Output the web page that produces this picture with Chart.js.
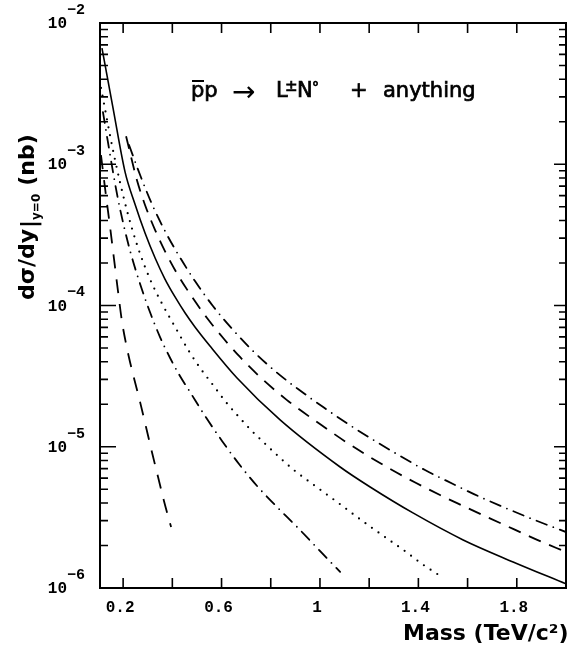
<!DOCTYPE html>
<html>
<head>
<meta charset="utf-8">
<script src="https://cdn.jsdelivr.net/npm/chart.js@4.4.0/dist/chart.umd.min.js"></script>
<style>
  html, body { margin: 0; padding: 0; background: #fff; }
  canvas { display: block; }
</style>
</head>
<body>
<canvas id="xsecChart" width="577" height="647"></canvas>
<script>
// mass in TeV/c^2, d(sigma)/dy at y=0 in nb
var massSolid  = [0.114, 0.159, 0.208, 0.248, 0.289, 0.330, 0.370, 0.411, 0.452, 0.492, 0.553, 0.663, 0.838, 1.082, 1.204, 1.378, 1.582, 1.785, 2.0];
var sigmaSolid = [6.65e-3, 2.5e-3, 8.8e-4, 5.23e-4, 3.26e-4, 2.17e-4, 1.54e-4, 1.15e-4, 8.85e-5, 7.05e-5, 5.17e-5, 3.07e-5, 1.55e-5, 7.19e-6, 5.19e-6, 3.4e-6, 2.19e-6, 1.53e-6, 1.07e-6];

var massDashed  = [0.212, 0.256, 0.289, 0.330, 0.374, 0.423, 0.480, 0.541, 0.610, 0.675, 0.765, 0.866, 0.931, 1.017, 1.106, 1.196, 1.293, 1.391, 1.488, 1.582, 1.679, 1.785, 1.883, 2.0];
var sigmaDashed = [1.58e-3, 7.74e-4, 5.15e-4, 3.42e-4, 2.35e-4, 1.64e-4, 1.15e-4, 8.15e-5, 5.79e-5, 4.32e-5, 3.02e-5, 2.14e-5, 1.76e-5, 1.38e-5, 1.08e-5, 8.6e-6, 6.84e-6, 5.54e-6, 4.55e-6, 3.81e-6, 3.18e-6, 2.62e-6, 2.19e-6, 1.8e-6];

var massDashDot  = [0.224, 0.269, 0.317, 0.370, 0.423, 0.492, 0.565, 0.647, 0.728, 0.822, 0.911, 1.013, 1.114, 1.216, 1.326, 1.427, 1.541, 1.651, 1.765, 1.883, 2.0];
var sigmaDashDot = [1.37e-3, 8.39e-4, 5.23e-4, 3.37e-4, 2.31e-4, 1.49e-4, 9.92e-5, 6.71e-5, 4.76e-5, 3.38e-5, 2.56e-5, 1.91e-5, 1.45e-5, 1.12e-5, 8.6e-6, 6.84e-6, 5.45e-6, 4.41e-6, 3.62e-6, 2.98e-6, 2.49e-6];

var massDotted  = [0.110, 0.163, 0.216, 0.261, 0.309, 0.358, 0.411, 0.472, 0.513, 0.565, 0.614, 0.667, 0.720, 0.777, 0.834, 0.899, 0.964, 1.025, 1.086, 1.151, 1.212, 1.281, 1.350, 1.415, 1.488];
var sigmaDotted = [3.47e-3, 1.16e-3, 4.67e-4, 2.55e-4, 1.54e-4, 1.03e-4, 7.05e-5, 4.61e-5, 3.61e-5, 2.74e-5, 2.11e-5, 1.65e-5, 1.31e-5, 1.05e-5, 8.46e-6, 6.73e-6, 5.54e-6, 4.63e-6, 3.87e-6, 3.18e-6, 2.66e-6, 2.19e-6, 1.8e-6, 1.48e-6, 1.22e-6];

var massDashDotLow  = [0.118, 0.139, 0.159, 0.179, 0.204, 0.232, 0.269, 0.309, 0.350, 0.391, 0.431, 0.472, 0.533, 0.602, 0.671, 0.748, 0.830, 0.911, 0.996, 1.082];
var sigmaDashDotLow = [2.34e-3, 1.41e-3, 8.8e-4, 5.68e-4, 3.59e-4, 2.31e-4, 1.42e-4, 8.99e-5, 5.98e-5, 4.25e-5, 3.17e-5, 2.44e-5, 1.65e-5, 1.1e-5, 7.55e-6, 5.19e-6, 3.68e-6, 2.66e-6, 1.86e-6, 1.3e-6];

var massLongDash  = [0.110, 0.130, 0.147, 0.163, 0.179, 0.195, 0.212, 0.228, 0.244, 0.269, 0.293, 0.317, 0.342, 0.366, 0.395];
var sigmaLongDash = [1.16e-3, 6.06e-4, 3.59e-4, 2.13e-4, 1.27e-4, 7.77e-5, 5.34e-5, 3.98e-5, 3.07e-5, 2.07e-5, 1.38e-5, 9.18e-6, 6.11e-6, 4.13e-6, 2.7e-6];

var massTicks = [0.2, 0.4, 0.6, 0.8, 1.0, 1.2, 1.4, 1.6, 1.8, 2.0];
var massLabels = [[0.2, '0.2'], [0.6, '0.6'], [1.0, '1'], [1.4, '1.4'], [1.8, '1.8']];
var sigmaExponents = [-2, -3, -4, -5, -6];

function pts(xs, ys) {
	var out = [];
	for (var i = 0; i < xs.length; i++) out.push({ x: xs[i], y: ys[i] });
	return out;
}

function curve(xs, ys, dash, width, cap) {
	return {
		data: pts(xs, ys),
		showLine: true,
		borderColor: '#000',
		borderWidth: width,
		borderDash: dash,
		borderCapStyle: cap || 'butt',
		pointRadius: 0,
		fill: false,
		cubicInterpolationMode: 'monotone'
	};
}

// text drawn a little heavier, like the photocopied original
function heavyText(ctx, s, px, py) {
	ctx.fillText(s, px, py);
	ctx.strokeText(s, px, py);
}

// frame, inward ticks and all the text round the plot
const frameAndText = {
	id: 'frameAndText',
	afterDraw(chart) {
		const ctx = chart.ctx;
		const a = chart.chartArea;
		const x = chart.scales.x, y = chart.scales.y;
		ctx.save();
		ctx.strokeStyle = '#000';
		ctx.fillStyle = '#000';
		ctx.lineWidth = 2;
		ctx.strokeRect(a.left, a.top, a.right - a.left, a.bottom - a.top);

		ctx.lineWidth = 1.6;
		ctx.beginPath();
		massTicks.forEach(function (m) {
			var px = x.getPixelForValue(m);
			ctx.moveTo(px, a.bottom); ctx.lineTo(px, a.bottom - 10);
			ctx.moveTo(px, a.top); ctx.lineTo(px, a.top + 10);
		});
		for (var e = -6; e <= -2; e++) {
			for (var k = 1; k <= 9; k++) {
				if (e === -2 && k > 1) break;
				var py = y.getPixelForValue(k * Math.pow(10, e));
				ctx.moveTo(a.left, py); ctx.lineTo(a.left + (k === 1 ? 16 : 8), py);
				ctx.moveTo(a.right, py); ctx.lineTo(a.right - (k === 1 ? 12 : 7), py);
			}
		}
		ctx.stroke();

		// y tick labels 10^n
		sigmaExponents.forEach(function (n) {
			var py = y.getPixelForValue(Math.pow(10, n));
			ctx.font = 'bold 16px "Liberation Mono"';
			ctx.textAlign = 'right';
			ctx.textBaseline = 'middle';
			ctx.fillText('10', 67, py + 1);
			ctx.font = 'bold 15px "Liberation Mono"';
			ctx.textAlign = 'left';
			ctx.fillText('\u2212' + Math.abs(n), 67, py - 13);
		});

		// x tick labels
		ctx.font = 'bold 16px "Liberation Mono"';
		ctx.textAlign = 'center';
		ctx.textBaseline = 'middle';
		massLabels.forEach(function (l) {
			ctx.fillText(l[1], x.getPixelForValue(l[0]) - 3, 608);
		});

		// x title
		ctx.font = 'bold 22px "DejaVu Sans"';
		ctx.textAlign = 'left';
		ctx.textBaseline = 'alphabetic';
		ctx.fillText('Mass (TeV/c\u00b2)', 403, 640);

		// y title, rotated
		ctx.save();
		ctx.translate(34, 300);
		ctx.rotate(-Math.PI / 2);
		ctx.textAlign = 'left';
		ctx.textBaseline = 'alphabetic';
		var cx = 0;
		ctx.font = 'bold 22px "DejaVu Sans"';
		ctx.fillText('d\u03c3/dy', cx, 0); cx += ctx.measureText('d\u03c3/dy').width + 1;
		ctx.fillText('|', cx, 2); cx += ctx.measureText('|').width;
		ctx.font = 'bold 12px "DejaVu Sans"';
		ctx.fillText('y=0', cx, 6); cx += ctx.measureText('y=0').width + 8;
		ctx.font = 'bold 22px "DejaVu Sans"';
		ctx.fillText('(nb)', cx, 0);
		ctx.restore();

		// reaction label
		ctx.textBaseline = 'alphabetic';
		ctx.textAlign = 'left';
		ctx.lineWidth = 0.7;
		ctx.font = '21px "DejaVu Sans"';
		heavyText(ctx, 'pp', 191, 97);
		ctx.lineWidth = 2;
		ctx.beginPath();
		ctx.moveTo(192, 81); ctx.lineTo(204, 81);
		ctx.stroke();
		ctx.lineWidth = 0.7;
		ctx.font = '28px "DejaVu Sans"';
		ctx.fillText('\u2192', 232, 101);
		ctx.font = '21px "DejaVu Sans"';
		heavyText(ctx, 'L', 276, 97);
		ctx.font = '15px "DejaVu Sans"';
		heavyText(ctx, '\u00b1', 285, 91);
		ctx.font = '21px "DejaVu Sans"';
		heavyText(ctx, 'N', 297, 97);
		ctx.font = '14px "DejaVu Sans"';
		heavyText(ctx, '\u00b0', 312, 92);
		ctx.font = '21px "DejaVu Sans"';
		heavyText(ctx, '+', 350, 97);
		heavyText(ctx, 'anything', 383, 97);
		ctx.restore();
	}
};

const cdata = {
	datasets: [
		curve(massSolid, sigmaSolid, [], 1.6),
		curve(massDashed, sigmaDashed, [13, 9], 1.8),
		curve(massDashDot, sigmaDashDot, [11, 7, 0, 7], 1.8, 'round'),
		curve(massDotted, sigmaDotted, [0, 8], 2.2, 'round'),
		curve(massDashDotLow, sigmaDashDotLow, [11, 7, 0, 7], 1.8, 'round'),
		curve(massLongDash, sigmaLongDash, [14, 11], 1.8)
	]
};

const cconfig = {
	type: 'scatter',
	data: cdata,
	options: {
		responsive: false,
		animation: false,
		layout: { padding: { left: 100, right: 11, top: 23, bottom: 59 } },
		scales: {
			x: { type: 'linear', min: 0.106, max: 2.0, display: false },
			y: { type: 'logarithmic', min: 1e-6, max: 1e-2, display: false }
		},
		plugins: {
			legend: { display: false },
			tooltip: { enabled: false }
		}
	},
	plugins: [frameAndText]
};

const xsecChart = new Chart(
	document.getElementById('xsecChart').getContext('2d'),
	cconfig
);
</script>
</body>
</html>
